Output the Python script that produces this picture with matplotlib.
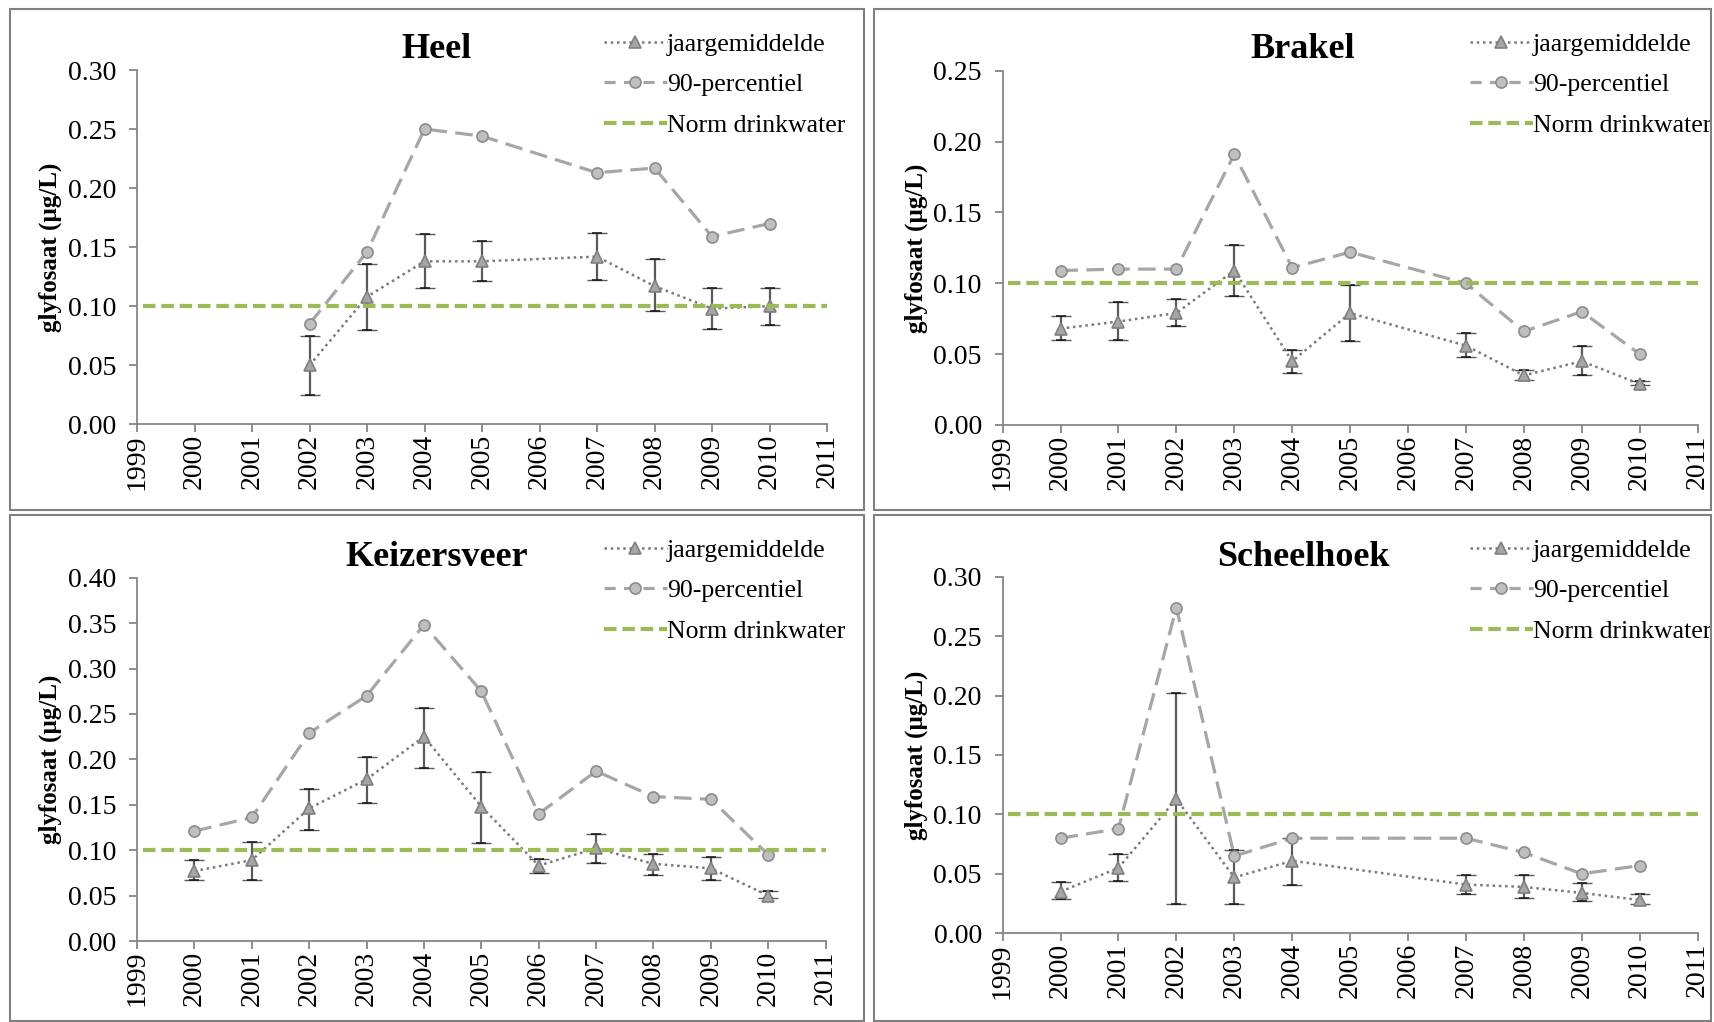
import matplotlib
matplotlib.use("Agg")
import matplotlib.pyplot as plt
from matplotlib.lines import Line2D
from matplotlib.patches import Rectangle

plt.rcParams['font.family'] = ['Liberation Serif', 'DejaVu Serif']

# ---- data ----
norm = 0.10

heel_years = [2002, 2003, 2004, 2005, 2007, 2008, 2009, 2010]
heel_mean = [0.050, 0.108, 0.138, 0.138, 0.142, 0.117, 0.098, 0.100]
heel_lo = [0.025, 0.080, 0.115, 0.121, 0.122, 0.096, 0.081, 0.084]
heel_hi = [0.075, 0.136, 0.161, 0.155, 0.162, 0.140, 0.115, 0.115]
heel_p90 = [0.085, 0.146, 0.250, 0.244, 0.213, 0.217, 0.159, 0.170]

brakel_years = [2000, 2001, 2002, 2003, 2004, 2005, 2007, 2008, 2009, 2010]
brakel_mean = [0.068, 0.073, 0.079, 0.109, 0.045, 0.079, 0.056, 0.035, 0.045, 0.029]
brakel_lo = [0.060, 0.060, 0.070, 0.091, 0.037, 0.059, 0.048, 0.032, 0.035, 0.028]
brakel_hi = [0.077, 0.087, 0.089, 0.127, 0.053, 0.099, 0.065, 0.039, 0.056, 0.031]
brakel_p90 = [0.109, 0.110, 0.110, 0.191, 0.111, 0.122, 0.100, 0.066, 0.080, 0.050]

keiz_years = [2000, 2001, 2002, 2003, 2004, 2005, 2006, 2007, 2008, 2009, 2010]
keiz_mean = [0.077, 0.089, 0.146, 0.178, 0.225, 0.148, 0.083, 0.102, 0.085, 0.080, 0.050]
keiz_lo = [0.067, 0.067, 0.122, 0.152, 0.191, 0.108, 0.075, 0.086, 0.073, 0.067, 0.047]
keiz_hi = [0.089, 0.109, 0.167, 0.203, 0.256, 0.186, 0.090, 0.118, 0.096, 0.093, 0.055]
keiz_p90 = [0.121, 0.136, 0.229, 0.270, 0.348, 0.275, 0.140, 0.187, 0.159, 0.156, 0.095]

scheel_years = [2000, 2001, 2002, 2003, 2004, 2007, 2008, 2009, 2010]
scheel_mean = [0.035, 0.055, 0.113, 0.047, 0.061, 0.041, 0.039, 0.034, 0.028]
scheel_lo = [0.029, 0.044, 0.025, 0.025, 0.041, 0.033, 0.030, 0.027, 0.025]
scheel_hi = [0.043, 0.067, 0.202, 0.070, 0.080, 0.049, 0.049, 0.042, 0.033]
scheel_p90 = [0.080, 0.088, 0.274, 0.065, 0.080, 0.080, 0.068, 0.050, 0.057]

tick_years = list(range(1999, 2012))
labels = ['jaargemiddelde', '90-percentiel', 'Norm drinkwater']

GREEN = '#9BBB59'
AXC = '#868686'

W, H = 1714, 1022
fig = plt.figure(figsize=(W / 100, H / 100), dpi=100)


def px(x0, y0, x1, y1):
    # pixel box (top-left origin) -> figure fractions [l, b, w, h]
    return [x0 / W, 1 - y1 / H, (x1 - x0) / W, (y1 - y0) / H]


def panel(box, title, years, mean, lo, hi, p90, ymax, title_xy, leg_xy):
    ax = fig.add_axes(box)
    err = [[m - l for m, l in zip(mean, lo)], [h - m for m, h in zip(mean, hi)]]
    ax.errorbar(years, mean, yerr=err, fmt='none', ecolor='#5a5a5a', elinewidth=1.6,
                capsize=7, capthick=1.0, zorder=2)
    # black caps on top of the grey bar
    ax.plot(years, lo, ls='none', marker='_', ms=7, mew=1.1, color='#111111', zorder=2)
    ax.plot(years, hi, ls='none', marker='_', ms=7, mew=1.1, color='#111111', zorder=2)
    ax.plot(years, mean, ls=(0, (1, 1.5)), lw=1.8, color='#7A7A7A', marker='^', ms=9,
            mfc='#A6A6A6', mec='#7F7F7F', mew=1.2, zorder=3)
    ax.plot(years, p90, ls=(0, (5.5, 2.6)), lw=2.3, color='#A6A6A6', marker='o', ms=8,
            mfc='#BFBFBF', mec='#8C8C8C', mew=1.2, zorder=4)
    ax.axhline(norm, color=GREEN, lw=3.0, ls=(0, (3, 1.4)), xmin=0.008, xmax=1, zorder=5)

    ax.set_xlim(1999, 2011)
    ax.set_ylim(0, ymax)
    ax.set_xticks(tick_years)
    ax.set_xticklabels([str(y) for y in tick_years], rotation=90, fontsize=20)
    yt = [i * 0.05 for i in range(int(round(ymax / 0.05)) + 1)]
    ax.set_yticks(yt)
    ax.set_yticklabels(['%.2f' % v for v in yt], fontsize=20)
    for s in ['top', 'right']:
        ax.spines[s].set_visible(False)
    for s in ['left', 'bottom']:
        ax.spines[s].set_color(AXC)
        ax.spines[s].set_linewidth(1.3)
    ax.tick_params(direction='out', length=6, width=1.3, color=AXC)
    ax.tick_params(axis='y', pad=9)
    ax.tick_params(axis='x', pad=1)
    ax.set_ylabel('glyfosaat (µg/L)', fontsize=18, fontweight='bold', labelpad=4)

    fig.text(title_xy[0] / W, 1 - title_xy[1] / H, title, fontsize=26, fontweight='bold',
             ha='center', va='center')

    handles = [
        Line2D([], [], ls=(0, (1, 1.5)), lw=1.8, color='#7A7A7A', marker='^', ms=9,
               mfc='#A6A6A6', mec='#7F7F7F', mew=1.2),
        Line2D([], [], ls=(0, (3.5, 2.6)), lw=2.3, color='#A6A6A6', marker='o', ms=8,
               mfc='#BFBFBF', mec='#8C8C8C', mew=1.2),
        Line2D([], [], color=GREEN, lw=3.0, ls=(0, (3, 1.4))),
    ]
    ax.legend(handles, labels, loc='upper left', bbox_to_anchor=(leg_xy[0] / W, 1 - leg_xy[1] / H),
              bbox_transform=fig.transFigure, frameon=False, borderpad=0, borderaxespad=0,
              fontsize=18.5, handlelength=2.45, handletextpad=0.0, labelspacing=0.68)
    return ax


panel(px(137, 70, 827, 424.3), 'Heel', heel_years, heel_mean, heel_lo, heel_hi, heel_p90,
      0.30, (437, 50), (604, 33))
panel(px(1002.6, 70.7, 1697.6, 425), 'Brakel', brakel_years, brakel_mean, brakel_lo, brakel_hi,
      brakel_p90, 0.25, (1303, 50), (1470, 33))
panel(px(137, 577.7, 825.6, 941), 'Keizersveer', keiz_years, keiz_mean, keiz_lo, keiz_hi,
      keiz_p90, 0.40, (437, 557), (604, 539))
panel(px(1002.6, 576.7, 1697.6, 933.3), 'Scheelhoek', scheel_years, scheel_mean, scheel_lo,
      scheel_hi, scheel_p90, 0.30, (1303, 557), (1470, 539))

# panel frames
for x0, y0, x1, y1 in [(10, 9, 864, 510), (874, 9, 1711, 510),
                       (10, 515, 864, 1021), (874, 515, 1711, 1021)]:
    fig.patches.append(Rectangle((x0 / W, 1 - y1 / H), (x1 - x0) / W, (y1 - y0) / H,
                                 transform=fig.transFigure, fill=False,
                                 edgecolor='#808080', lw=1.5))

fig.savefig('out.png', dpi=100)
